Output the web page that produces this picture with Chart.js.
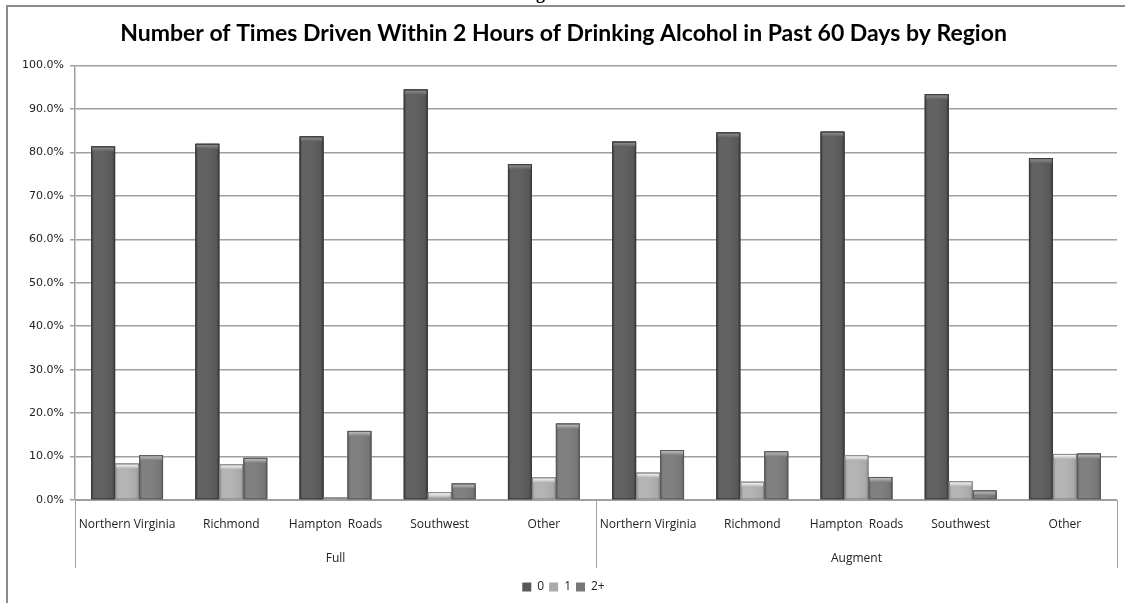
<!DOCTYPE html>
<html>
<head>
<meta charset="utf-8">
<title>Driving after drinking by region</title>
<script src="https://cdn.jsdelivr.net/npm/chart.js@4.4.1/dist/chart.umd.min.js"></script>
<style>
  html, body { margin: 0; padding: 0; background: #fff; }
  #wrap { position: relative; width: 1125px; height: 603px; }
</style>
</head>
<body>
<div id="wrap"><canvas id="regionChart" width="1125" height="603"></canvas></div>
<script>
// ---- data ----
const regions = ["Northern Virginia", "Richmond", "Hampton  Roads", "Southwest", "Other"];
const groups = ["Full", "Augment"];
const categories = [...regions, ...regions];
const timesZero = [81.4, 82.0, 83.7, 94.5, 77.3, 82.5, 84.6, 84.8, 93.4, 78.7];
const timesOne = [8.4, 8.2, 0.6, 1.8, 5.2, 6.3, 4.2, 10.3, 4.3, 10.6];
const timesTwoPlus = [10.3, 9.7, 15.9, 3.8, 17.6, 11.5, 11.2, 5.3, 2.2, 10.7];
const seriesNames = ["0", "1", "2+"];
const yTickValues = [0, 10, 20, 30, 40, 50, 60, 70, 80, 90, 100];

// grey tones for the cylinder look: edge, middle, cap highlight
const tones = [
  { base: "#585858", edge: "#3a3a3a", mid: "#626262", cap: "#8a8a8a" },
  { base: "#aaaaaa", edge: "#8a8a8a", mid: "#b4b4b4", cap: "#f2f2f2" },
  { base: "#777777", edge: "#5a5a5a", mid: "#808080", cap: "#b8b8b8" }
];

const gridGrey = "#a0a0a0";
const textGrey = "#222";

// shade each bar with a horizontal gradient and a lighter cap
const barShade = {
  id: "barShade",
  afterDatasetsDraw(chart) {
    const ctx = chart.ctx;
    ctx.save();
    chart.data.datasets.forEach((ds, i) => {
      const meta = chart.getDatasetMeta(i);
      const t = tones[i];
      meta.data.forEach(bar => {
        const { x, y, base, width } = bar.getProps(["x", "y", "base", "width"], true);
        const l = x - width / 2;
        const h = base - y;
        if (h <= 0) return;
        const g = ctx.createLinearGradient(l, 0, l + width, 0);
        g.addColorStop(0, t.edge);
        g.addColorStop(0.12, t.mid);
        g.addColorStop(0.5, t.mid);
        g.addColorStop(0.88, t.base);
        g.addColorStop(1, t.edge);
        ctx.fillStyle = g;
        ctx.fillRect(l, y, width, h);
        // top cap
        const capH = Math.min(5, h);
        const cg = ctx.createLinearGradient(0, y, 0, y + capH);
        cg.addColorStop(0, t.edge);
        cg.addColorStop(0.25, t.cap);
        cg.addColorStop(1, t.mid);
        ctx.fillStyle = cg;
        ctx.fillRect(l + 1, y, width - 2, capH);
        ctx.strokeStyle = t.edge;
        ctx.lineWidth = 1;
        ctx.strokeRect(l + 0.5, y + 0.5, width - 1, h - 1);
      });
    });
    ctx.restore();
  }
};

// group separators, group names and the outer frame
const groupAxis = {
  id: "groupAxis",
  afterDraw(chart) {
    const ctx = chart.ctx;
    const xs = chart.scales.x;
    const area = chart.chartArea;
    const step = xs.getPixelForValue(1) - xs.getPixelForValue(0);
    const per = regions.length;
    ctx.save();
    ctx.strokeStyle = gridGrey;
    ctx.lineWidth = 1;
    const bounds = [];
    for (let gi = 0; gi <= groups.length; gi++) {
      bounds.push(xs.getPixelForValue(gi * per) - step / 2);
    }
    bounds.forEach(bx => {
      const px = Math.round(bx) + 0.5;
      ctx.beginPath();
      ctx.moveTo(px, area.bottom);
      ctx.lineTo(px, area.bottom + 68);
      ctx.stroke();
    });
    ctx.fillStyle = textGrey;
    ctx.font = "12px 'Open Sans'";
    ctx.textAlign = "center";
    ctx.textBaseline = "middle";
    groups.forEach((name, gi) => {
      ctx.fillText(name, (bounds[gi] + bounds[gi + 1]) / 2, area.bottom + 59);
    });

    // frame
    ctx.strokeStyle = "#8c8c8c";
    ctx.lineWidth = 2;
    ctx.beginPath();
    ctx.moveTo(chart.width, 6);
    ctx.lineTo(7, 6);
    ctx.lineTo(7, chart.height);
    ctx.stroke();
    // tail of the page heading above the frame
    ctx.fillStyle = "#000";
    ctx.font = "bold 18px 'Liberation Serif'";
    ctx.textAlign = "left";
    ctx.textBaseline = "alphabetic";
    ctx.fillText("g", 536, -1);
    ctx.restore();
  }
};

const datasets = [timesZero, timesOne, timesTwoPlus].map((vals, i) => ({
  label: seriesNames[i],
  data: vals,
  backgroundColor: tones[i].base,
  borderWidth: 0,
  categoryPercentage: 0.69,
  barPercentage: 1.0
}));

new Chart(document.getElementById("regionChart"), {
  type: "bar",
  data: { labels: categories, datasets },
  plugins: [barShade, groupAxis],
  options: {
    responsive: false,
    animation: false,
    layout: { padding: { top: 8, left: 10, right: 8, bottom: 0 } },
    plugins: {
      title: {
        display: true,
        text: "Number of Times Driven Within 2 Hours of Drinking Alcohol in Past 60 Days by Region",
        color: "#000",
        font: { family: "Lato", size: 23, weight: "bold" },
        padding: { top: 12, bottom: 18 }
      },
      legend: {
        position: "bottom",
        labels: {
          boxWidth: 9,
          boxHeight: 9,
          padding: 5,
          color: textGrey,
          font: { family: "'Open Sans'", size: 12 }
        }
      },
      tooltip: { enabled: false }
    },
    scales: {
      x: {
        grid: { display: false },
        border: { color: gridGrey },
        ticks: {
          color: textGrey,
          font: { family: "'Open Sans'", size: 12 },
          maxRotation: 0,
          autoSkip: false,
          padding: 9
        },
        afterFit(scale) { scale.height = 76; }
      },
      y: {
        min: 0,
        max: 100,
        afterBuildTicks(scale) { scale.ticks = yTickValues.map(v => ({ value: v })); },
        grid: { color: gridGrey, drawTicks: true, tickLength: 5, lineWidth: 1.5 },
        border: { color: gridGrey, width: 1.5 },
        ticks: {
          color: textGrey,
          font: { family: "'DejaVu Sans'", size: 11 },
          padding: 6,
          callback: v => v.toFixed(1) + "%"
        },
        afterFit(scale) { scale.width = 65; }
      }
    }
  }
});
</script>
</body>
</html>
